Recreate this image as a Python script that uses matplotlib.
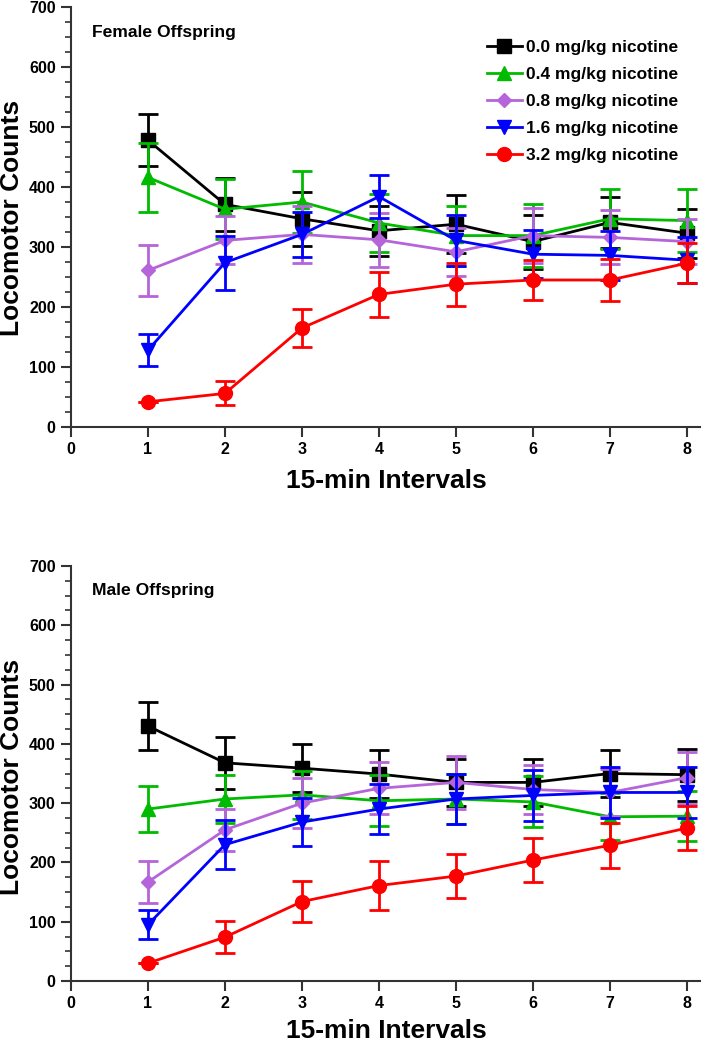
import matplotlib
matplotlib.use("Agg")
import matplotlib.pyplot as plt
from matplotlib.ticker import MultipleLocator
from matplotlib.lines import Line2D

plt.rcParams['font.family'] = ['Liberation Sans', 'DejaVu Sans']

intervals = [1, 2, 3, 4, 5, 6, 7, 8]
doses = ["0.0 mg/kg nicotine", "0.4 mg/kg nicotine", "0.8 mg/kg nicotine",
         "1.6 mg/kg nicotine", "3.2 mg/kg nicotine"]
colors = ["#000000", "#00BB00", "#B565D9", "#0000FF", "#FF0000"]
markers = ["s", "^", "D", "v", "o"]
msizes = [10, 10, 7, 10, 10]

# Female offspring means and SEMs
female_0_0 = [478, 371, 347, 327, 338, 309, 341, 323]
female_0_4 = [416, 363, 375, 340, 319, 319, 347, 344]
female_0_8 = [261, 311, 321, 312, 292, 319, 316, 309]
female_1_6 = [128, 274, 321, 384, 311, 288, 286, 278]
female_3_2 = [42, 56, 165, 221, 238, 245, 245, 273]
female_0_0_sem = [43, 44, 45, 42, 48, 45, 42, 41]
female_0_4_sem = [57, 50, 52, 48, 50, 52, 50, 53]
female_0_8_sem = [43, 40, 48, 45, 40, 46, 45, 38]
female_1_6_sem = [27, 45, 37, 36, 43, 40, 41, 38]
female_3_2_sem = [0, 20, 31, 37, 36, 33, 35, 33]

# Male offspring means and SEMs
male_0_0 = [430, 368, 359, 349, 335, 335, 350, 348]
male_0_4 = [290, 307, 314, 304, 307, 302, 277, 278]
male_0_8 = [167, 255, 300, 325, 335, 323, 318, 343]
male_1_6 = [95, 230, 268, 290, 307, 313, 318, 318]
male_3_2 = [30, 74, 134, 161, 177, 204, 229, 258]
male_0_0_sem = [40, 44, 41, 41, 40, 40, 40, 44]
male_0_4_sem = [39, 41, 40, 43, 43, 43, 40, 42]
male_0_8_sem = [35, 35, 42, 44, 45, 42, 40, 44]
male_1_6_sem = [24, 41, 41, 42, 43, 43, 43, 43]
male_3_2_sem = [0, 27, 34, 41, 37, 37, 38, 37]

female_means = [female_0_0, female_0_4, female_0_8, female_1_6, female_3_2]
female_sems = [female_0_0_sem, female_0_4_sem, female_0_8_sem, female_1_6_sem, female_3_2_sem]
male_means = [male_0_0, male_0_4, male_0_8, male_1_6, male_3_2]
male_sems = [male_0_0_sem, male_0_4_sem, male_0_8_sem, male_1_6_sem, male_3_2_sem]

W, H = 703, 1050
fig = plt.figure(figsize=(W / 100, H / 100), dpi=100)
ax1 = fig.add_axes([71 / W, 1 - 427 / H, (700 - 71) / W, 420 / H])
ax2 = fig.add_axes([71 / W, 1 - 981 / H, (700 - 71) / W, 415 / H])


def fy(py):
    return 1 - py / H


def draw(ax, means, sems, title, title_y, ylab_y, xlab_y, legend):
    for i in range(5):
        ax.errorbar(intervals, means[i], yerr=sems[i], color=colors[i],
                    marker=markers[i], markersize=msizes[i], linewidth=2,
                    elinewidth=2, capsize=7, capthick=2,
                    zorder=3 + i)
    ax.set_xlim(0, 8.17)
    ax.set_ylim(0, 700)
    ax.set_xticks(range(0, 9))
    ax.yaxis.set_major_locator(MultipleLocator(100))
    ax.yaxis.set_minor_locator(MultipleLocator(25))
    for s in ["top", "right"]:
        ax.spines[s].set_visible(False)
    for s in ["left", "bottom"]:
        ax.spines[s].set_linewidth(1.5)
        ax.spines[s].set_color("#333333")
    ax.tick_params(axis="both", which="major", length=7, width=1.5,
                   color="#333333", labelsize=11.5, pad=4)
    ax.tick_params(axis="y", which="minor", length=4, width=1.2, color="#333333")
    for lab in ax.get_xticklabels() + ax.get_yticklabels():
        lab.set_fontweight("bold")
    fig.text(12 / W, fy(ylab_y), "Locomotor Counts", rotation=90,
             fontsize=19, fontweight="bold", ha="center", va="center")
    fig.text(386 / W, fy(xlab_y), "15-min Intervals",
             fontsize=19, fontweight="bold", ha="center", va="center")
    fig.text(92 / W, fy(title_y), title, fontsize=12.6,
             fontweight="bold", ha="left", va="center")
    if legend:
        handles = [Line2D([], [], color=colors[i], marker=markers[i],
                          markersize=msizes[i], linewidth=2)
                   for i in range(5)]
        ax.legend(handles, doses, loc="upper left",
                  bbox_to_anchor=(487 / W, fy(40)),
                  bbox_transform=fig.transFigure,
                  frameon=False, handlelength=2.0, labelspacing=0.68,
                  handletextpad=0.25, borderaxespad=0, borderpad=0,
                  prop={"weight": "bold", "size": 12.5})


draw(ax1, female_means, female_sems, "Female Offspring", 32, 218, 481, True)
draw(ax2, male_means, male_sems, "Male Offspring", 591, 777, 1031, False)

fig.savefig("out.png", dpi=100)
